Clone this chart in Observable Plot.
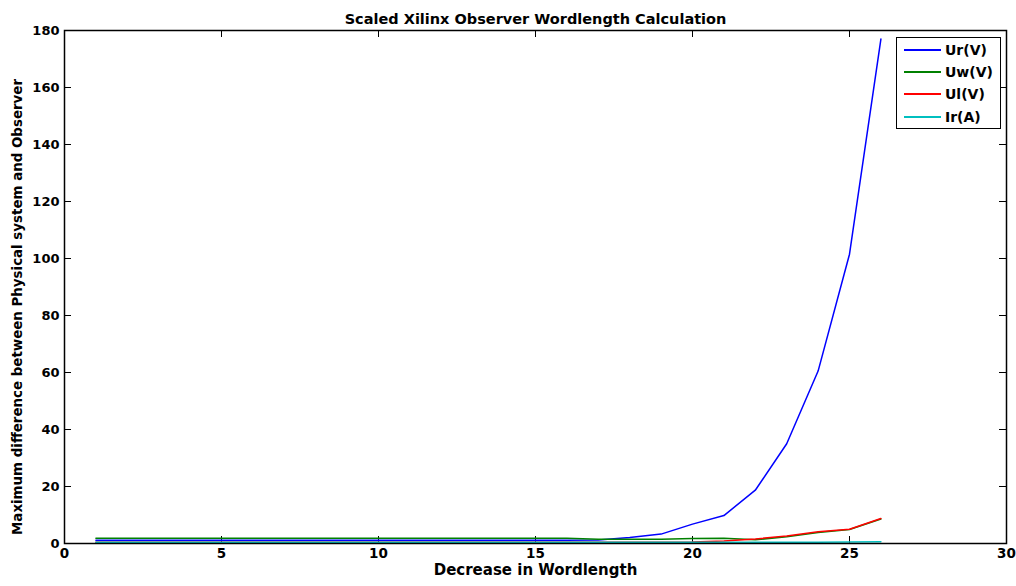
<!DOCTYPE html>
<html><head><meta charset="utf-8">
<script src="https://cdn.jsdelivr.net/npm/d3@7"></script>
<script src="https://cdn.jsdelivr.net/npm/@observablehq/plot@0.6"></script>
<style>
body{margin:0;background:#fff;font-family:"DejaVu Sans",sans-serif}
#wrap{position:relative;width:1016px;height:586px}
#legend{position:absolute;left:896px;top:37px;width:105px;height:92px;border:1.5px solid #000;background:#fff;box-sizing:border-box;font-weight:bold;font-size:14px}
.row{position:absolute;left:0;height:20px;display:flex;align-items:center}
.sw{display:inline-block;width:37px;height:0;border-top:2px solid;margin-left:7px;margin-right:4px}
</style></head>
<body><div id="wrap"><div id="legend"></div></div>
<script>
const title = "Scaled Xilinx Observer Wordlength Calculation";
const xLabel = "Decrease in Wordlength";
const yLabel = "Maximum difference between Physical system and Observer";
const xValues = [1,2,3,4,5,6,7,8,9,10,11,12,13,14,15,16,17,18,19,20,21,22,23,24,25,26];
const seriesNames = ["Ur(V)","Uw(V)","Ul(V)","Ir(A)"];
const seriesColors = ["#0000ff","#008000","#ff0000","#00bfbf"];
const ur = [1.1,1.1,1.1,1.1,1.1,1.1,1.1,1.1,1.1,1.1,1.1,1.1,1.1,1.1,1.1,1.1,1.2,2.1,3.3,6.8,9.8,18.7,35,60.5,101.5,177];
const uw = [1.85,1.85,1.85,1.85,1.85,1.85,1.85,1.85,1.85,1.85,1.85,1.85,1.85,1.85,1.85,1.85,1.5,1.45,1.5,1.75,1.8,1.3,2.4,3.9,4.9,8.6];
const ul = [0.4,0.4,0.4,0.4,0.4,0.4,0.4,0.4,0.4,0.4,0.4,0.4,0.4,0.4,0.4,0.4,0.4,0.4,0.4,0.5,0.9,1.6,2.6,4.1,5.0,8.8];
const ir = [0.45,0.45,0.45,0.45,0.45,0.45,0.45,0.45,0.45,0.45,0.45,0.45,0.45,0.45,0.45,0.45,0.45,0.45,0.45,0.45,0.45,0.45,0.45,0.45,0.5,0.6];
const xTicks = [0,5,10,15,20,25,30];
const yTicks = [0,20,40,60,80,100,120,140,160,180];

const allSeries = [ur, uw, ul, ir];

const W = 1016, H = 586;
const mT = 30, mB = 43, mL = 64, mR = 10;
const innerH = H - mT - mB, innerW = W - mL - mR;
const tk = 7;
const ff = '"DejaVu Sans", sans-serif';

const plot = Plot.plot({
  width: W, height: H,
  marginTop: mT, marginBottom: mB, marginLeft: mL, marginRight: mR,
  style: {fontFamily: ff, fontSize: "13px", fontWeight: "bold", background: "#fff", color: "#000"},
  x: {domain: [0, 30]},
  y: {domain: [0, 180]},
  marks: [
    Plot.axisX(xTicks, {tickSize: 0, tickPadding: 5, label: null, fontSize: 13.5, fontWeight: "bold"}),
    Plot.axisY(yTicks, {tickSize: 0, tickPadding: 5, label: null, fontSize: 13, fontWeight: "bold"}),
    Plot.tickX(xTicks, {x: d => d, insetTop: innerH - tk, stroke: "#000"}),
    Plot.tickX(xTicks, {x: d => d, insetBottom: innerH - tk, stroke: "#000"}),
    Plot.tickY(yTicks, {y: d => d, insetRight: innerW - tk, stroke: "#000"}),
    Plot.tickY(yTicks, {y: d => d, insetLeft: innerW - tk, stroke: "#000"}),
    ...allSeries.map((vals, i) => Plot.line(vals, {x: (d, j) => xValues[j], y: d => d, stroke: seriesColors[i], strokeWidth: 1.5})),
    Plot.frame({stroke: "#000", strokeWidth: 1.5}),
    Plot.text([title], {frameAnchor: "top", dy: -17, fontSize: 14.5, fontWeight: "bold", text: d => d}),
    Plot.text([xLabel], {frameAnchor: "bottom", dy: 31, fontSize: 15, fontWeight: "bold", text: d => d}),
    Plot.text([yLabel], {frameAnchor: "left", dx: -47, dy: 20, rotate: -90, textAnchor: "middle", fontSize: 13.4, fontWeight: "bold", text: d => d})
  ]
});
document.getElementById("wrap").prepend(plot);

const leg = document.getElementById("legend");
seriesNames.forEach((n, i) => {
  const r = document.createElement("div");
  r.className = "row";
  r.style.top = (2 + i * 22.2) + "px";
  r.innerHTML = `<span class="sw" style="border-color:${seriesColors[i]}"></span><span>${n}</span>`;
  leg.appendChild(r);
});
</script></body></html>
